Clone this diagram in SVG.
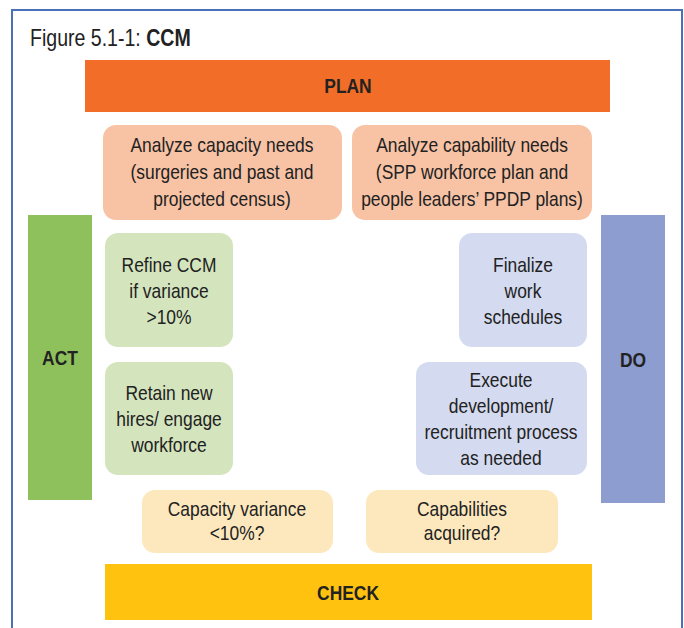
<svg xmlns="http://www.w3.org/2000/svg" width="684" height="628" viewBox="0 0 684 628">
<style>
text{font-family:"Liberation Sans",Arial,sans-serif;fill:#222;font-size:20.5px;text-anchor:middle;transform:scaleX(0.85);transform-box:fill-box;transform-origin:center}
.b{font-weight:bold}
.title{text-anchor:start;font-size:23px;transform-origin:left center}
.bar-plan{fill:#F26D28}
.bar-act{fill:#8EC15B}
.bar-do{fill:#8D9DCF}
.bar-check{fill:#FFC30F}
.peach{fill:#F8C3A5}
.lgreen{fill:#D4E5BE}
.lblue{fill:#D4DAEF}
.lyellow{fill:#FDE8BE}
</style>
<rect x="12" y="10" width="670" height="640" fill="#fff" stroke="#4A70B7" stroke-width="2"/>
<text class="title" x="30" y="46">Figure 5.1-1: <tspan class="b">CCM</tspan></text>
<g id="plan"><rect class="bar-plan" x="85" y="60" width="525" height="52"/><text class="b" x="348" y="93">PLAN</text></g>
<g id="act"><rect class="bar-act" x="28" y="215" width="64" height="285"/><text class="b" x="60" y="365">ACT</text></g>
<g id="do"><rect class="bar-do" x="601" y="215" width="64" height="288"/><text class="b" x="633" y="367">DO</text></g>
<g id="check"><rect class="bar-check" x="105" y="564" width="487" height="56"/><text class="b" x="348" y="600">CHECK</text></g>
<g id="capacity-needs"><rect class="peach" x="103" y="125" width="239" height="95" rx="13"/>
<text x="222" y="152">Analyze capacity needs</text><text x="222" y="179">(surgeries and past and</text><text x="222" y="206">projected census)</text></g>
<g id="capability-needs"><rect class="peach" x="352" y="125" width="240" height="95" rx="13"/>
<text x="472" y="152">Analyze capability needs</text><text x="472" y="179">(SPP workforce plan and</text><text x="472" y="206">people leaders’ PPDP plans)</text></g>
<g id="refine"><rect class="lgreen" x="105" y="233" width="128" height="114" rx="13"/>
<text x="169" y="272">Refine CCM</text><text x="169" y="298">if variance</text><text x="169" y="324">&gt;10%</text></g>
<g id="retain"><rect class="lgreen" x="105" y="362" width="128" height="113" rx="13"/>
<text x="169" y="400">Retain new</text><text x="169" y="426">hires/ engage</text><text x="169" y="452">workforce</text></g>
<g id="finalize"><rect class="lblue" x="459" y="233" width="128" height="114" rx="13"/>
<text x="523" y="272">Finalize</text><text x="523" y="298">work</text><text x="523" y="324">schedules</text></g>
<g id="execute"><rect class="lblue" x="416" y="362" width="171" height="113" rx="13"/>
<text x="501" y="387">Execute</text><text x="501" y="413">development/</text><text x="501" y="439">recruitment process</text><text x="501" y="465">as needed</text></g>
<g id="capacity-variance"><rect class="lyellow" x="142" y="490" width="191" height="63" rx="13"/>
<text x="237" y="516">Capacity variance</text><text x="237" y="540">&lt;10%?</text></g>
<g id="capabilities"><rect class="lyellow" x="366" y="490" width="192" height="63" rx="13"/>
<text x="462" y="516">Capabilities</text><text x="462" y="540">acquired?</text></g>
<g id="connectors"></g>
</svg>
